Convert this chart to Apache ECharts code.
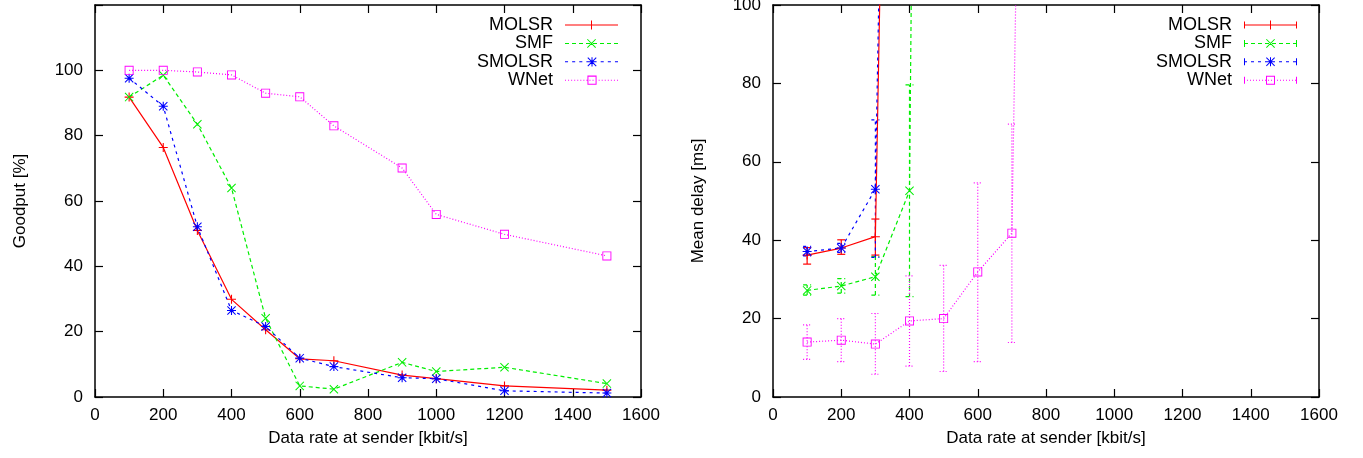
<!DOCTYPE html>
<html>
<head>
<meta charset="utf-8">
<script src="https://cdn.jsdelivr.net/npm/echarts@6/dist/echarts.min.js"></script>
<style>
html,body{margin:0;padding:0;background:#fff;}
#chart{width:1363px;height:458px;}
</style>
</head>
<body>
<div id="chart"></div>
<script>
// ---------- data ----------
const seriesNames = ['MOLSR', 'SMF', 'SMOLSR', 'WNet'];
const xTicks = [0, 200, 400, 600, 800, 1000, 1200, 1400, 1600];

// Left chart: goodput [%]
const goodputRates = [100, 200, 300, 400, 500, 600, 700, 900, 1000, 1200, 1500];
const goodputMOLSR  = [91.8, 76.4, 51.0, 29.9, 20.6, 11.7, 11.1, 6.7, 5.6, 3.4, 2.1];
const goodputSMF    = [91.8, 98.5, 83.5, 64.0, 24.1, 3.4, 2.4, 10.6, 7.8, 9.1, 4.1];
const goodputSMOLSR = [97.6, 89.0, 52.1, 26.5, 21.6, 11.9, 9.3, 5.9, 5.6, 1.9, 1.2];
const goodputWNet   = [100.0, 100.0, 99.5, 98.6, 93.0, 91.9, 83.0, 70.1, 55.9, 49.8, 43.2];

// Right chart: mean delay [ms] with error bars
const delayRatesMOLSR = [100, 200, 300, 400];
const delayMOLSR      = [36.2, 38.0, 40.9, 510];
const delayLowMOLSR   = [33.9, 36.4, 36.2, null];
const delayHighMOLSR  = [38.1, 40.1, 45.4, null];

const delayRatesSMF = [100, 200, 300, 400, 500];
const delaySMF      = [27.2, 28.3, 30.7, 52.6, 1000];
const delayLowSMF   = [26.0, 26.5, 26.0, 25.6, null];
const delayHighSMF  = [28.6, 30.2, 35.8, 79.6, null];

const delayRatesSMOLSR = [100, 200, 300, 400];
const delaySMOLSR      = [37.1, 38.0, 53.0, 540];
const delayLowSMOLSR   = [36.0, 36.9, 35.6, null];
const delayHighSMOLSR  = [38.4, 39.2, 70.7, null];

const delayRatesWNet = [100, 200, 300, 400, 500, 600, 700, 800];
const delayWNet      = [14.0, 14.5, 13.5, 19.4, 20.0, 31.9, 41.8, 570];
const delayLowWNet   = [9.6, 9.0, 5.8, 7.9, 6.5, 9.0, 13.9, null];
const delayHighWNet  = [18.4, 20.0, 21.3, 30.9, 33.6, 54.6, 69.6, null];

// ---------- styling ----------
const FONT = "'Liberation Sans', Arial, sans-serif";
const colors = { MOLSR: '#ff0000', SMF: '#00ee00', SMOLSR: '#0000ff', WNet: '#ff00ff' };
const dashes = { MOLSR: null, SMF: [4, 3], SMOLSR: [3, 4], WNet: [1, 2] };

// marker shapes (filled thin strokes in a 10x10 box)
const P_PLUS = 'M0,4.4H10V5.6H0Z M4.4,0H5.6V10H4.4Z';
const P_X = 'M0,0.8L0.8,0L10,9.2L9.2,10Z M9.2,0L10,0.8L0.8,10L0,9.2Z';
const P_SQ = 'M0,0H10V10H0Z M1,1V9H9V1Z';
const markerPath = {
  MOLSR: 'path://' + P_PLUS,
  SMF: 'path://' + P_X,
  SMOLSR: 'path://' + P_PLUS + ' ' + P_X,
  WNet: 'path://' + P_SQ
};

// legend icon (53 x 9 box), optionally with error-bar caps
function legendIcon(name, caps) {
  const W = 53, cx = 26.5;
  let p = '';
  const d = dashes[name];
  if (!d) {
    p += 'M0,4H53V5H0Z ';
  } else {
    for (let x = 0; x < W; x += d[0] + d[1]) {
      const e = Math.min(W, x + d[0]);
      p += 'M' + x + ',4H' + e + 'V5H' + x + 'Z ';
    }
  }
  if (caps) p += 'M0,1H1V8H0Z M52,1H53V8H52Z ';
  const o = cx - 4.5;
  const r = (a, b, c, dd) => 'M' + (o + a) + ',' + b + 'H' + (o + c) + 'V' + dd + 'H' + (o + a) + 'Z ';
  if (name === 'MOLSR' || name === 'SMOLSR') {
    p += r(0, 4, 9, 5) + r(4, 0, 5, 9);
  }
  if (name === 'SMF' || name === 'SMOLSR') {
    p += 'M' + o + ',0.7L' + (o + 0.7) + ',0L' + (o + 9) + ',8.3L' + (o + 8.3) + ',9Z ';
    p += 'M' + (o + 8.3) + ',0L' + (o + 9) + ',0.7L' + (o + 0.7) + ',9L' + o + ',8.3Z ';
  }
  if (name === 'WNet') {
    p += 'M' + o + ',0H' + (o + 9) + 'V9H' + o + 'Z M' + (o + 1) + ',1V8H' + (o + 8) + 'V1Z ';
  }
  return 'path://' + p;
}

function lineSeries(name, xs, ys, gi) {
  return {
    type: 'line', name: name,
    xAxisIndex: gi * 2, yAxisIndex: gi * 2,
    data: xs.map((x, i) => [x, ys[i]]),
    symbol: markerPath[name], symbolSize: 9, showAllSymbol: true,
    lineStyle: { color: colors[name], width: 1.2, type: dashes[name] || 'solid' },
    itemStyle: { color: colors[name], borderWidth: 0 },
    emphasis: { disabled: true },
    clip: true, animation: false, z: 3
  };
}

function errSeries(name, xs, lows, highs, gi) {
  const data = [];
  xs.forEach((x, i) => { if (lows[i] != null) data.push([x, lows[i], highs[i]]); });
  const color = colors[name];
  const dash = dashes[name];
  return {
    type: 'custom', name: name,
    xAxisIndex: gi * 2, yAxisIndex: gi * 2,
    data: data, encode: { x: 0, y: [1, 2] },
    clip: true, animation: false, z: 2,
    itemStyle: { color: color },
    renderItem: function (params, api) {
      const x = api.value(0);
      const lo = api.coord([x, api.value(1)]);
      const hi = api.coord([x, api.value(2)]);
      const hw = 4;
      const st = { stroke: color, lineWidth: 1.2, lineDash: dash, fill: null };
      return {
        type: 'group', children: [
          { type: 'line', shape: { x1: lo[0], y1: lo[1], x2: hi[0], y2: hi[1] }, style: st },
          { type: 'line', shape: { x1: lo[0] - hw, y1: lo[1], x2: lo[0] + hw, y2: lo[1] }, style: st },
          { type: 'line', shape: { x1: hi[0] - hw, y1: hi[1], x2: hi[0] + hw, y2: hi[1] }, style: st }
        ]
      };
    }
  };
}

const axisLineStyle = { show: true, onZero: false, lineStyle: { color: '#000', width: 1.5 } };
const tickStyle = { show: true, inside: true, length: 8, lineStyle: { color: '#000', width: 1.2 } };
const labelStyle = { color: '#000', fontFamily: FONT, fontSize: 17 };

function xAxes(gi) {
  const base = { type: 'value', gridIndex: gi, min: 0, max: 1600, interval: 200, splitLine: { show: false } };
  return [
    Object.assign({}, base, {
      position: 'bottom', axisLine: axisLineStyle, axisTick: tickStyle,
      axisLabel: Object.assign({ margin: 10, formatter: v => String(v) }, labelStyle),
      name: 'Data rate at sender [kbit/s]', nameLocation: 'middle', nameGap: 33,
      nameTextStyle: labelStyle
    }),
    Object.assign({}, base, {
      position: 'top', axisLine: axisLineStyle, axisTick: tickStyle, axisLabel: { show: false }
    })
  ];
}
function yAxes(gi, max, name) {
  const base = { type: 'value', gridIndex: gi, min: 0, max: max, interval: 20, splitLine: { show: false } };
  return [
    Object.assign({}, base, {
      position: 'left', axisLine: axisLineStyle, axisTick: tickStyle,
      axisLabel: Object.assign({ margin: 12, formatter: v => (v > 100 ? '' : String(v)) }, labelStyle),
      name: name, nameLocation: 'middle', nameGap: 66, nameTextStyle: labelStyle
    }),
    Object.assign({}, base, {
      position: 'right', axisLine: axisLineStyle, axisTick: tickStyle, axisLabel: { show: false }
    })
  ];
}

function legend(right, caps) {
  return {
    orient: 'vertical', align: 'right', right: right, top: 16, padding: 0,
    itemWidth: 53, itemHeight: 12, itemGap: 0.4,
    selectedMode: false,
    textStyle: { color: '#000', fontFamily: FONT, fontSize: 18, lineHeight: 17, padding: [0, 7, 0, 0] },
    data: seriesNames.map(n => ({ name: n, icon: legendIcon(n, caps) }))
  };
}

const option = {
  animation: false,
  backgroundColor: '#fff',
  grid: [
    { left: 95, top: 5, width: 546, height: 392, containLabel: false, outerBoundsMode: 'none' },
    { left: 773, top: 5, width: 546, height: 392, containLabel: false, outerBoundsMode: 'none' }
  ],
  xAxis: xAxes(0).concat(xAxes(1)),
  yAxis: yAxes(0, 120, 'Goodput [%]').concat(yAxes(1, 100, 'Mean delay [ms]')),
  legend: [legend(1363 - 618, false), legend(1363 - 1297, true)],
  series: [
    lineSeries('MOLSR', goodputRates, goodputMOLSR, 0),
    lineSeries('SMF', goodputRates, goodputSMF, 0),
    lineSeries('SMOLSR', goodputRates, goodputSMOLSR, 0),
    lineSeries('WNet', goodputRates, goodputWNet, 0),
    lineSeries('MOLSR', delayRatesMOLSR, delayMOLSR, 1),
    lineSeries('SMF', delayRatesSMF, delaySMF, 1),
    lineSeries('SMOLSR', delayRatesSMOLSR, delaySMOLSR, 1),
    lineSeries('WNet', delayRatesWNet, delayWNet, 1),
    errSeries('MOLSR', delayRatesMOLSR, delayLowMOLSR, delayHighMOLSR, 1),
    errSeries('SMF', delayRatesSMF, delayLowSMF, delayHighSMF, 1),
    errSeries('SMOLSR', delayRatesSMOLSR, delayLowSMOLSR, delayHighSMOLSR, 1),
    errSeries('WNet', delayRatesWNet, delayLowWNet, delayHighWNet, 1)
  ]
};

const chart = echarts.init(document.getElementById('chart'), null, { renderer: 'canvas' });
chart.setOption(option);
</script>
</body>
</html>
